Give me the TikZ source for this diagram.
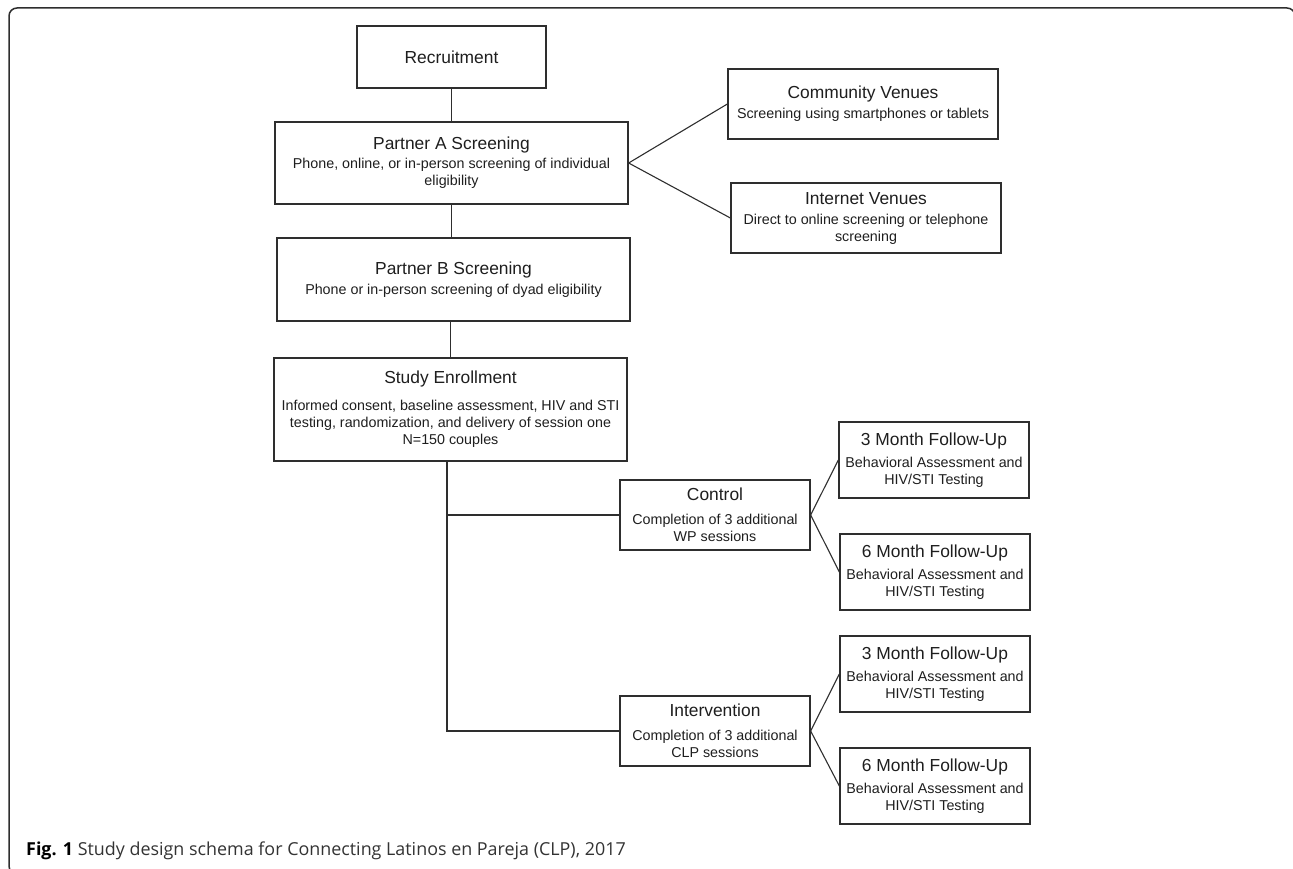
\documentclass[tikz,border=0pt]{standalone}
\usepackage{fontspec}
\setmainfont{Liberation Sans}
\newfontfamily\capfont{Open Sans}
\definecolor{boxline}{HTML}{2E2E2E}
\definecolor{txt}{HTML}{1E1E1E}
\definecolor{captxt}{HTML}{333333}
\newcommand{\ttl}[1]{{\fontsize{17.4}{17}\selectfont #1}}
\begin{document}
\begin{tikzpicture}[x=1pt,y=-1pt,
  box/.style={draw=boxline, line width=1.3pt, rectangle, inner sep=0pt, align=center,
    text=txt, font=\fontsize{14.3}{17}\selectfont},
  link/.style={draw=boxline, line width=1.1pt}]
\useasboundingbox (0,0) rectangle (1293,869);
\begin{scope}
\clip (0,0) rectangle (1293,869);
\draw[draw=boxline, line width=1.5pt, rounded corners=8pt] (9,8) rectangle (1295,874);
\end{scope}

\node[box, minimum width=189, minimum height=62] (rec) at (451.5,57) {\ttl{Recruitment}};
\node[box, minimum width=353, minimum height=82] (pa) at (451.5,163)
  {\ttl{Partner A Screening}\\[2pt]Phone, online, or in-person screening of individual\\eligibility};
\node[box, minimum width=270, minimum height=70] (cv) at (863,104)
  {\ttl{Community Venues}\\[3pt]Screening using smartphones or tablets};
\node[box, minimum width=270, minimum height=70] (iv) at (866,218)
  {\ttl{Internet Venues}\\[3pt]Direct to online screening or telephone\\screening};
\node[box, minimum width=353, minimum height=83] (pb) at (453.5,279.5)
  {\ttl{Partner B Screening}\\[3pt]Phone or in-person screening of dyad eligibility};
\node[box, minimum width=353, minimum height=103] (se) at (450.5,409.5)
  {\ttl{Study Enrollment}\\[10pt]Informed consent, baseline assessment, HIV and STI\\testing, randomization, and delivery of session one\\N=150 couples};
\node[box, minimum width=190, minimum height=70] (ctl) at (715,515)
  {\ttl{Control}\\[7pt]Completion of 3 additional\\WP sessions};
\node[box, minimum width=190, minimum height=76] (c3) at (934,460)
  {\ttl{3 Month Follow-Up}\\[5pt]Behavioral Assessment and\\HIV/STI Testing};
\node[box, minimum width=190, minimum height=76] (c6) at (935,572)
  {\ttl{6 Month Follow-Up}\\[5pt]Behavioral Assessment and\\HIV/STI Testing};
\node[box, minimum width=190, minimum height=70] (int) at (715,731)
  {\ttl{Intervention}\\[7pt]Completion of 3 additional\\CLP sessions};
\node[box, minimum width=190, minimum height=76] (i3) at (935,674)
  {\ttl{3 Month Follow-Up}\\[5pt]Behavioral Assessment and\\HIV/STI Testing};
\node[box, minimum width=190, minimum height=76] (i6) at (935,786)
  {\ttl{6 Month Follow-Up}\\[5pt]Behavioral Assessment and\\HIV/STI Testing};

\coordinate (trunk) at (447,731);

\draw[link] (rec.south) -- (rec.south |- pa.north);
\draw[link] (pa.south) -- (pa.south |- pb.north);
\draw[link] (pb.south -| se.south) -- (se.north);
\draw[link] (pa.east) -- (cv.west);
\draw[link] (pa.east) -- (iv.west);
\draw[link] (se.south -| trunk) -- (trunk) -- (int.west);
\draw[link] (ctl.west -| trunk) -- (ctl.west);
\draw[link] (ctl.east) -- (c3.west);
\draw[link] (ctl.east) -- (c6.west);
\draw[link] (int.east) -- (i3.west);
\draw[link] (int.east) -- (i6.west);

\node[anchor=base west, inner sep=0pt, text=captxt, font=\capfont\fontsize{17.9}{20}\selectfont] (cap) at (26,855)
  {{\bfseries\color{black}Fig. 1} Study design schema for Connecting Latinos en Pareja (CLP), 2017};
\end{tikzpicture}
\end{document}
